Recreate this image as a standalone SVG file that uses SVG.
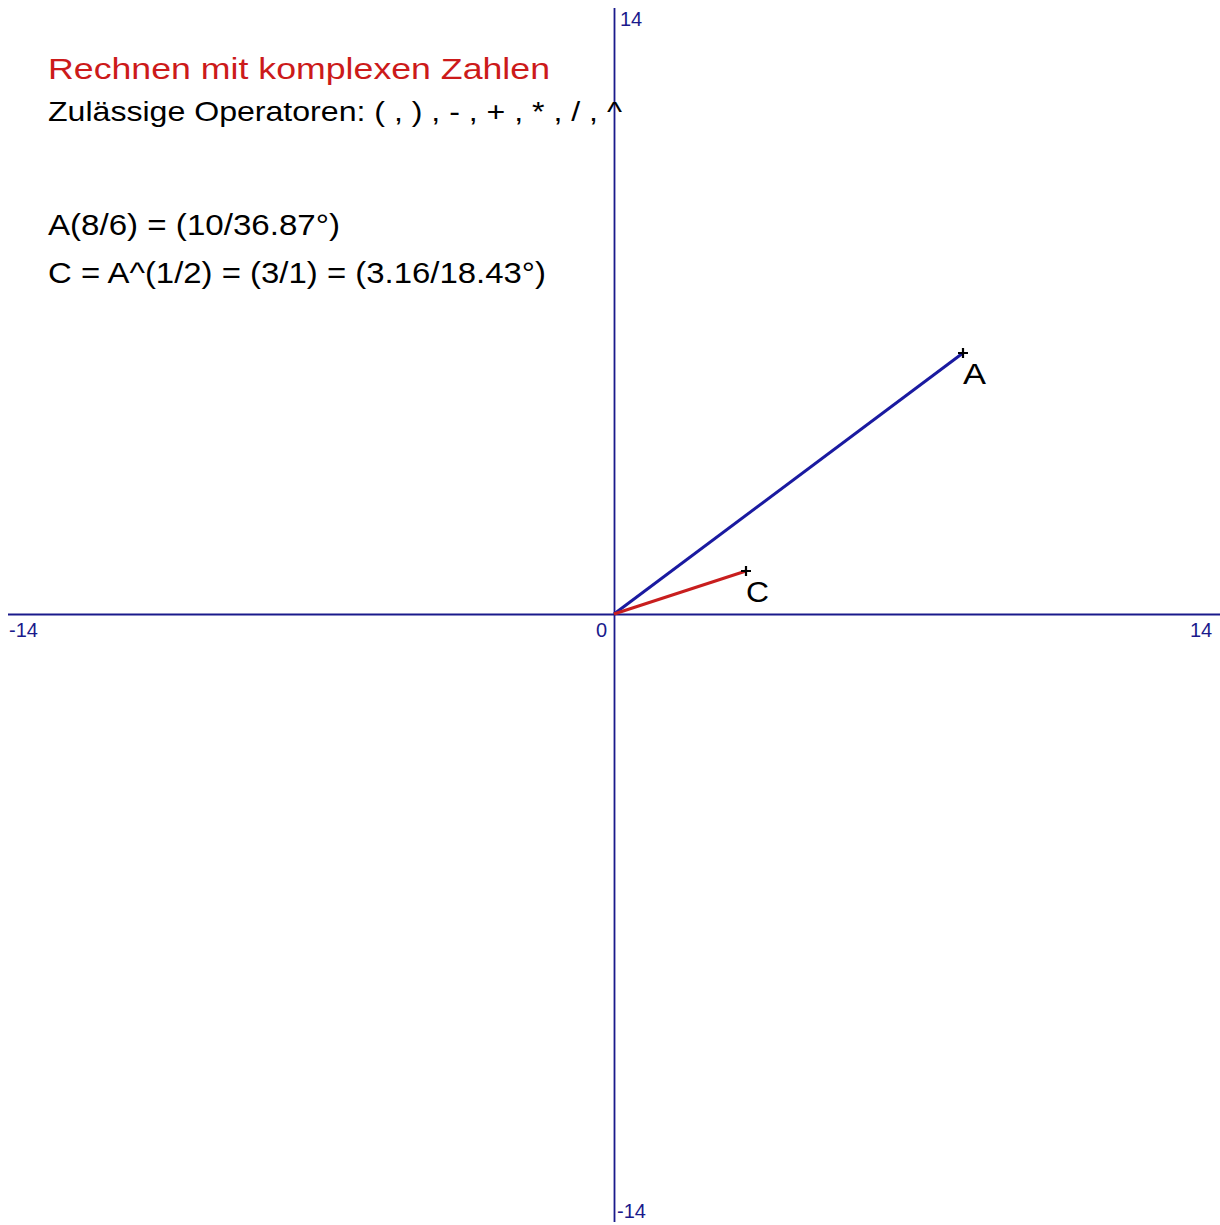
<svg xmlns="http://www.w3.org/2000/svg" width="1220" height="1225" viewBox="0 0 1220 1225">
<style>
.ax{stroke:#1a1a8c;stroke-width:1.8;fill:none}
.al{font-family:"Liberation Sans",Arial,sans-serif;font-size:20px;fill:#1a1a8c}
.t{font-family:"Liberation Sans",Arial,sans-serif;font-size:29px;fill:#000}
.cross{stroke:#000;stroke-width:2.2}
</style>
<rect width="1220" height="1225" fill="#fff"/>
<g id="axes">
<line class="ax" x1="8" y1="614.5" x2="1220" y2="614.5"/>
<line class="ax" x1="614.5" y1="8" x2="614.5" y2="1222"/>
<text class="al" x="9" y="637">-14</text>
<text class="al" x="596" y="637">0</text>
<text class="al" x="1190" y="637">14</text>
<text class="al" x="620" y="26">14</text>
<text class="al" x="617" y="1218">-14</text>
</g>
<g id="connectors">
<line x1="614" y1="614" x2="963" y2="353" stroke="#1a1aa0" stroke-width="3"/>
<line x1="614" y1="614" x2="746" y2="571" stroke="#c81e1e" stroke-width="3"/>
</g>
<g id="A">
<path class="cross" d="M958 353h10M963 348v10"/>
<text class="t" x="963" y="384" textLength="23" lengthAdjust="spacingAndGlyphs">A</text>
</g>
<g id="C">
<path class="cross" d="M741 571h10M746 566v10"/>
<text class="t" x="746" y="602" textLength="23" lengthAdjust="spacingAndGlyphs">C</text>
</g>
<g id="texts">
<text class="t" x="48" y="79" style="fill:#cc1a1a;font-size:30px" textLength="502" lengthAdjust="spacingAndGlyphs">Rechnen mit komplexen Zahlen</text>
<text class="t" x="48" y="121" style="font-size:27.5px" textLength="574" lengthAdjust="spacingAndGlyphs">Zulässige Operatoren: ( , ) , - , + , * , / , ^</text>
<text class="t" x="48" y="235" textLength="292" lengthAdjust="spacingAndGlyphs">A(8/6) = (10/36.87°)</text>
<text class="t" x="48" y="283" textLength="498" lengthAdjust="spacingAndGlyphs">C = A^(1/2) = (3/1) = (3.16/18.43°)</text>
</g>
</svg>
